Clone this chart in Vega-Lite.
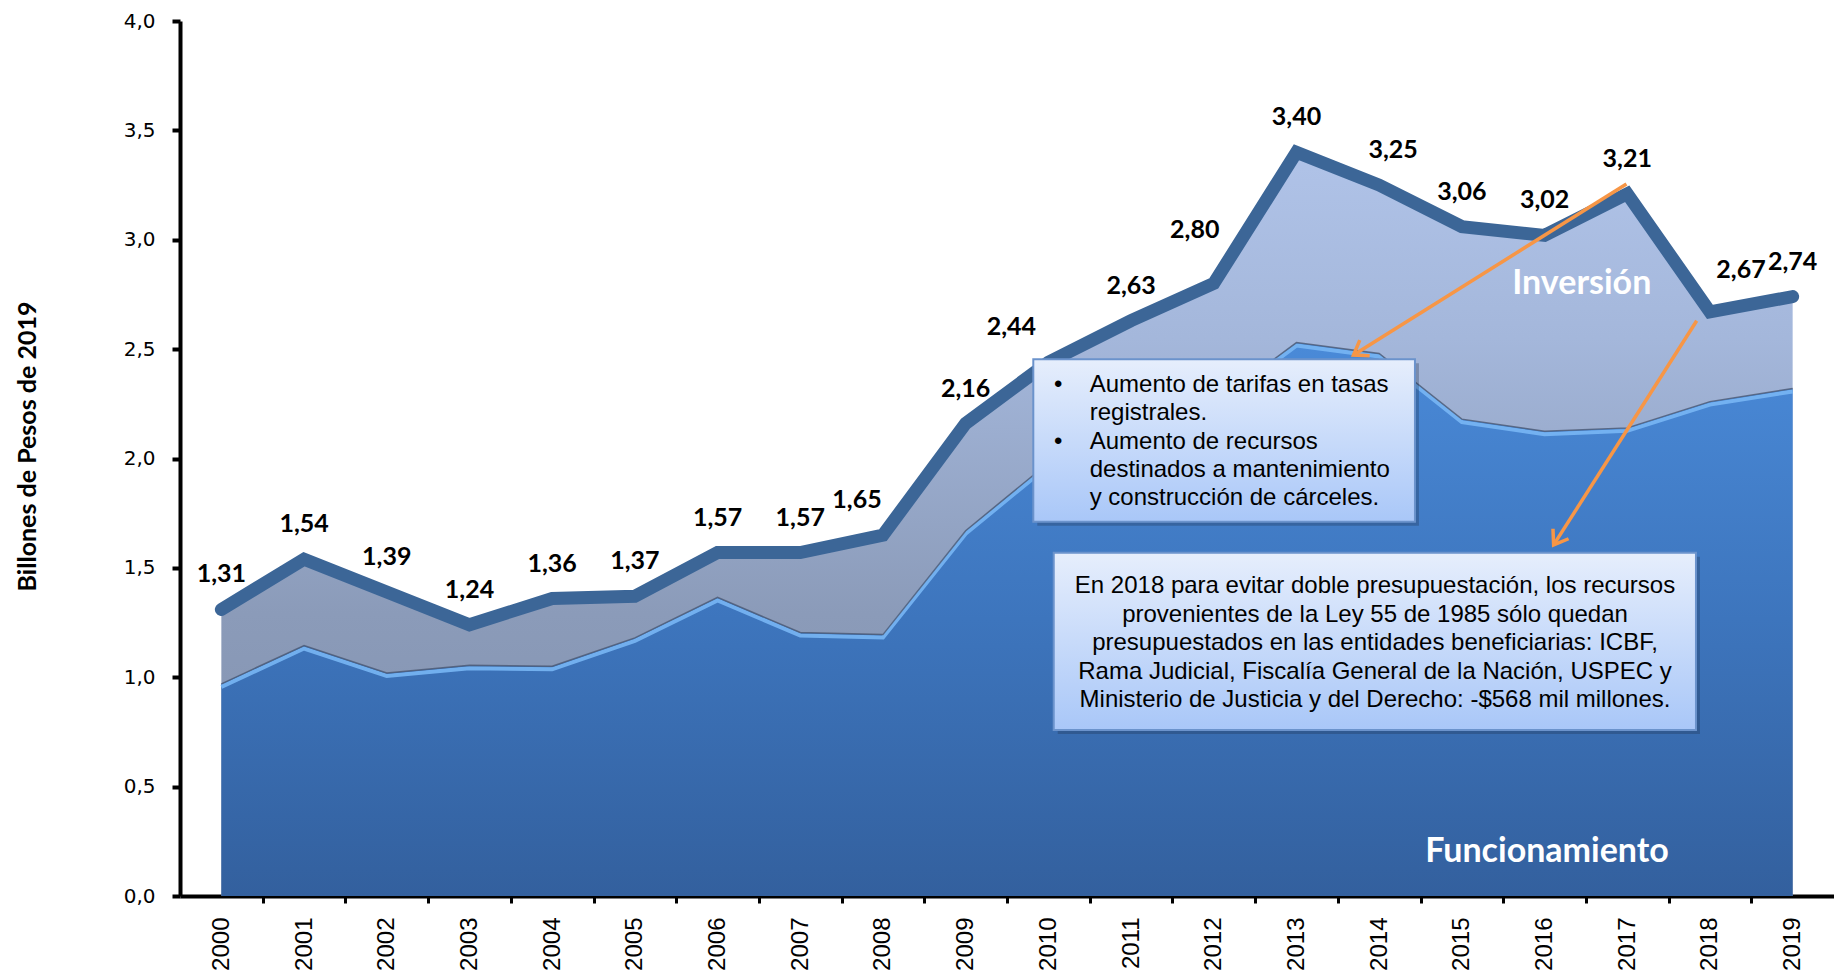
{
  "$schema": "https://vega.github.io/schema/vega-lite/v6.json",
  "width": 1654,
  "height": 875,
  "autosize": {"type": "none"},
  "padding": {"left": 180, "top": 21, "right": 0, "bottom": 74},
  "background": "white",
  "config": {
    "view": {"stroke": null},
    "locale": {"number": {"decimal": ",", "thousands": ".", "grouping": [3], "currency": ["$", ""]}}
  },
  "data": {
    "values": [
      {"year": 2000, "total": 1.31, "func": 0.97},
      {"year": 2001, "total": 1.54, "func": 1.145},
      {"year": 2002, "total": 1.39, "func": 1.02},
      {"year": 2003, "total": 1.24, "func": 1.055},
      {"year": 2004, "total": 1.36, "func": 1.05},
      {"year": 2005, "total": 1.37, "func": 1.18},
      {"year": 2006, "total": 1.57, "func": 1.365},
      {"year": 2007, "total": 1.57, "func": 1.205},
      {"year": 2008, "total": 1.65, "func": 1.195},
      {"year": 2009, "total": 2.16, "func": 1.67},
      {"year": 2010, "total": 2.44, "func": 1.98},
      {"year": 2011, "total": 2.63, "func": 2.12},
      {"year": 2012, "total": 2.80, "func": 2.25},
      {"year": 2013, "total": 3.40, "func": 2.53},
      {"year": 2014, "total": 3.25, "func": 2.48},
      {"year": 2015, "total": 3.06, "func": 2.18},
      {"year": 2016, "total": 3.02, "func": 2.125},
      {"year": 2017, "total": 3.21, "func": 2.14},
      {"year": 2018, "total": 2.67, "func": 2.26},
      {"year": 2019, "total": 2.74, "func": 2.32}
    ]
  },
  "encoding": {
    "x": {
      "field": "year", "type": "quantitative",
      "scale": {"domain": [1999.5, 2019.5], "nice": false, "zero": false},
      "axis": {
        "title": null,
        "values": [2000, 2000.5, 2001, 2001.5, 2002, 2002.5, 2003, 2003.5, 2004, 2004.5, 2005, 2005.5, 2006, 2006.5, 2007, 2007.5, 2008, 2008.5, 2009, 2009.5, 2010, 2010.5, 2011, 2011.5, 2012, 2012.5, 2013, 2013.5, 2014, 2014.5, 2015, 2015.5, 2016, 2016.5, 2017, 2017.5, 2018, 2018.5, 2019],
        "labelExpr": "datum.value % 1 === 0 ? format(datum.value, 'd') : ''",
        "labelAngle": 270,
        "labelAlign": "right",
        "labelBaseline": "middle",
        "labelFont": "Liberation Sans",
        "labelFontSize": 24,
        "labelColor": "#000000",
        "labelPadding": 14,
        "labelOverlap": false,
        "labelFlush": false,
        "tickSize": 7,
        "tickWidth": 3,
        "tickColor": "#000000",
        "tickOpacity": {"condition": {"test": "datum.value % 1 !== 0", "value": 1}, "value": 0},
        "domainColor": "#000000",
        "domainWidth": 4,
        "grid": false
      }
    }
  },
  "layer": [
    {
      "mark": {
        "type": "area",
        "color": {"gradient": "linear", "x1": 0, "y1": 0, "x2": 0, "y2": 1,
          "stops": [
            {"offset": 0, "color": "#b0c3e8"},
            {"offset": 0.25, "color": "#a4b7db"},
            {"offset": 0.62, "color": "#8b9bb9"},
            {"offset": 1, "color": "#7f8fac"}
          ]}
      },
      "encoding": {
        "y": {
          "field": "total", "type": "quantitative",
          "scale": {"domain": [0, 4], "nice": false},
          "axis": {
            "title": "Billones de Pesos de 2019",
            "titleFont": "Lato",
            "titleFontWeight": "bold",
            "titleFontSize": 25,
            "titleColor": "#000000",
            "titleAngle": 270,
            "titleX": -153,
            "titleY": 425,
            "titleAlign": "center",
            "titleBaseline": "middle",
            "values": [0, 0.5, 1, 1.5, 2, 2.5, 3, 3.5, 4],
            "format": ".1f",
            "labelFont": "DejaVu Sans",
            "labelFontSize": 20,
            "labelColor": "#000000",
            "labelPadding": 17,
            "tickSize": 8,
            "tickWidth": 4,
            "tickColor": "#000000",
            "domainColor": "#000000",
            "domainWidth": 4,
            "grid": false
          }
        }
      }
    },
    {
      "mark": {
        "type": "area",
        "color": {"gradient": "linear", "x1": 0, "y1": 0, "x2": 0, "y2": 1,
          "stops": [
            {"offset": 0, "color": "#4a8ad8"},
            {"offset": 0.5, "color": "#3d75bd"},
            {"offset": 1, "color": "#33609e"}
          ]}
      },
      "encoding": {"y": {"field": "func", "type": "quantitative"}}
    },
    {
      "mark": {"type": "line", "color": "#78b6f4", "strokeWidth": 4, "yOffset": 3, "opacity": 0.9},
      "encoding": {"y": {"field": "func", "type": "quantitative"}}
    },
    {
      "mark": {"type": "line", "color": "#4d5a73", "strokeWidth": 1.5, "opacity": 0.8},
      "encoding": {"y": {"field": "func", "type": "quantitative"}}
    },
    {
      "mark": {"type": "line", "color": "#3c6697", "strokeWidth": 13, "strokeCap": "round", "strokeJoin": "miter"},
      "encoding": {"y": {"field": "total", "type": "quantitative"}}
    },
    {
      "transform": [{"filter": "indexof([2008, 2010, 2012, 2014, 2018], datum.year) < 0"}],
      "mark": {"type": "text", "font": "Lato", "fontWeight": "bold", "fontSize": 25, "color": "#000000", "dy": -35, "baseline": "middle"},
      "encoding": {"y": {"field": "total", "type": "quantitative"}, "text": {"field": "total", "type": "quantitative", "format": ".2f"}}
    },
    {
      "transform": [{"filter": "datum.year === 2008"}],
      "mark": {"type": "text", "font": "Lato", "fontWeight": "bold", "fontSize": 25, "color": "#000000", "dy": -35, "dx": -26, "baseline": "middle"},
      "encoding": {"y": {"field": "total", "type": "quantitative"}, "text": {"field": "total", "type": "quantitative", "format": ".2f"}}
    },
    {
      "transform": [{"filter": "datum.year === 2010"}],
      "mark": {"type": "text", "font": "Lato", "fontWeight": "bold", "fontSize": 25, "color": "#000000", "dy": -35, "dx": -37, "baseline": "middle"},
      "encoding": {"y": {"field": "total", "type": "quantitative"}, "text": {"field": "total", "type": "quantitative", "format": ".2f"}}
    },
    {
      "transform": [{"filter": "datum.year === 2012"}],
      "mark": {"type": "text", "font": "Lato", "fontWeight": "bold", "fontSize": 25, "color": "#000000", "dy": -54, "dx": -19, "baseline": "middle"},
      "encoding": {"y": {"field": "total", "type": "quantitative"}, "text": {"field": "total", "type": "quantitative", "format": ".2f"}}
    },
    {
      "transform": [{"filter": "datum.year === 2014"}],
      "mark": {"type": "text", "font": "Lato", "fontWeight": "bold", "fontSize": 25, "color": "#000000", "dy": -35, "dx": 14, "baseline": "middle"},
      "encoding": {"y": {"field": "total", "type": "quantitative"}, "text": {"field": "total", "type": "quantitative", "format": ".2f"}}
    },
    {
      "transform": [{"filter": "datum.year === 2018"}],
      "mark": {"type": "text", "font": "Lato", "fontWeight": "bold", "fontSize": 25, "color": "#000000", "dy": -42, "dx": 31, "baseline": "middle"},
      "encoding": {"y": {"field": "total", "type": "quantitative"}, "text": {"field": "total", "type": "quantitative", "format": ".2f"}}
    },
    {
      "transform": [{"filter": "datum.year === 2000"}],
      "mark": {"type": "text", "text": "Inversión", "font": "Lato", "fontWeight": "bold", "fontSize": 34, "color": "#ffffff", "align": "center", "baseline": "middle"},
      "encoding": {"x": {"datum": 2016.45}, "y": {"datum": 2.80}}
    },
    {
      "transform": [{"filter": "datum.year === 2000"}],
      "mark": {"type": "text", "text": "Funcionamiento", "font": "Lato", "fontWeight": "bold", "fontSize": 34, "color": "#ffffff", "align": "center", "baseline": "middle"},
      "encoding": {"x": {"datum": 2016.03}, "y": {"datum": 0.203}}
    },
    {
      "transform": [{"filter": "datum.year === 2000"}],
      "mark": {"type": "rect", "color": "#1f2f4a", "opacity": 0.3, "xOffset": 4, "x2Offset": 4, "yOffset": 4, "y2Offset": 4},
      "encoding": {"x": {"datum": 2009.818}, "x2": {"datum": 2014.433}, "y": {"datum": 2.4535}, "y2": {"datum": 1.711}}
    },
    {
      "transform": [{"filter": "datum.year === 2000"}],
      "mark": {"type": "rect", "stroke": "#6b93cc", "strokeWidth": 2,
        "fill": {"gradient": "linear", "x1": 0, "y1": 0, "x2": 0, "y2": 1,
          "stops": [{"offset": 0, "color": "#e6eefc"}, {"offset": 1, "color": "#a9c7f8"}]}},
      "encoding": {"x": {"datum": 2009.818}, "x2": {"datum": 2014.433}, "y": {"datum": 2.4535}, "y2": {"datum": 1.711}}
    },
    {
      "transform": [{"filter": "datum.year === 2000"}],
      "mark": {"type": "rect", "color": "#1f2f4a", "opacity": 0.3, "xOffset": 4, "x2Offset": 4, "yOffset": 4, "y2Offset": 4},
      "encoding": {"x": {"datum": 2010.065}, "x2": {"datum": 2017.831}, "y": {"datum": 1.569}, "y2": {"datum": 0.759}}
    },
    {
      "transform": [{"filter": "datum.year === 2000"}],
      "mark": {"type": "rect", "stroke": "#6b93cc", "strokeWidth": 2,
        "fill": {"gradient": "linear", "x1": 0, "y1": 0, "x2": 0, "y2": 1,
          "stops": [{"offset": 0, "color": "#e6eefc"}, {"offset": 1, "color": "#a9c7f8"}]}},
      "encoding": {"x": {"datum": 2010.065}, "x2": {"datum": 2017.831}, "y": {"datum": 1.569}, "y2": {"datum": 0.759}}
    },
    {
      "transform": [{"filter": "datum.year === 2000"}],
      "mark": {"type": "text", "text": "•", "font": "Liberation Sans", "fontSize": 24, "color": "#000000", "align": "center", "baseline": "middle"},
      "encoding": {"x": {"datum": 2010.12}, "y": {"datum": 2.336}}
    },
    {
      "transform": [{"filter": "datum.year === 2000"}],
      "mark": {"type": "text", "text": "•", "font": "Liberation Sans", "fontSize": 24, "color": "#000000", "align": "center", "baseline": "middle"},
      "encoding": {"x": {"datum": 2010.12}, "y": {"datum": 2.077}}
    },
    {
      "transform": [{"filter": "datum.year === 2000"}],
      "mark": {"type": "text", "text": ["Aumento de tarifas en tasas", "registrales."], "lineHeight": 28.3, "font": "Liberation Sans", "fontSize": 24, "color": "#000000", "align": "left", "baseline": "middle"},
      "encoding": {"x": {"datum": 2010.5}, "y": {"datum": 2.336}}
    },
    {
      "transform": [{"filter": "datum.year === 2000"}],
      "mark": {"type": "text", "text": ["Aumento de recursos", "destinados a mantenimiento", "y construcción de cárceles."], "lineHeight": 28.3, "font": "Liberation Sans", "fontSize": 24, "color": "#000000", "align": "left", "baseline": "middle"},
      "encoding": {"x": {"datum": 2010.5}, "y": {"datum": 2.077}}
    },
    {
      "transform": [{"filter": "datum.year === 2000"}],
      "mark": {"type": "text", "text": ["En 2018 para evitar doble presupuestación, los recursos", "provenientes de la Ley 55 de 1985 sólo quedan", "presupuestados en las entidades beneficiarias: ICBF,", "Rama Judicial, Fiscalía General de la Nación, USPEC y", "Ministerio de Justicia y del Derecho: -$568 mil millones."], "lineHeight": 28.5, "font": "Liberation Sans", "fontSize": 24, "color": "#000000", "align": "center", "baseline": "middle"},
      "encoding": {"x": {"datum": 2013.95}, "y": {"datum": 1.417}}
    },
    {
      "transform": [{"filter": "datum.year === 2000"}],
      "mark": {"type": "rule", "color": "#f79646", "strokeWidth": 3.5},
      "encoding": {"x": {"datum": 2016.99}, "y": {"datum": 3.255}, "x2": {"datum": 2013.69}, "y2": {"datum": 2.473}}
    },
    {
      "transform": [{"filter": "datum.year === 2000"}],
      "mark": {"type": "rule", "color": "#f79646", "strokeWidth": 3.5},
      "encoding": {"x": {"datum": 2017.84}, "y": {"datum": 2.63}, "x2": {"datum": 2016.11}, "y2": {"datum": 1.605}}
    },
    {
      "transform": [{"filter": "datum.year === 2000"}],
      "mark": {"type": "point", "shape": "M-0.7,1L0,0L0.7,1", "filled": false, "stroke": "#f79646", "strokeWidth": 3.5, "size": 700, "angle": 237.9, "opacity": 1},
      "encoding": {"x": {"datum": 2013.69}, "y": {"datum": 2.473}}
    },
    {
      "transform": [{"filter": "datum.year === 2000"}],
      "mark": {"type": "point", "shape": "M-0.7,1L0,0L0.7,1", "filled": false, "stroke": "#f79646", "strokeWidth": 3.5, "size": 700, "angle": 212.6, "opacity": 1},
      "encoding": {"x": {"datum": 2016.11}, "y": {"datum": 1.605}}
    }
  ]
}
